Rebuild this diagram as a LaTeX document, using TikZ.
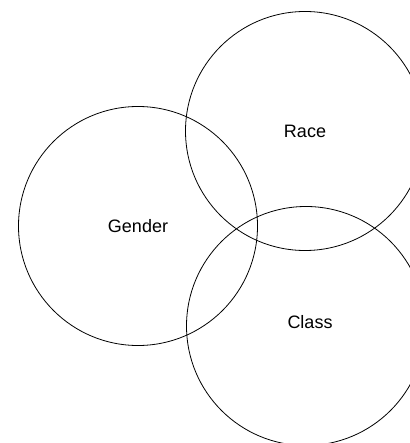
\documentclass[tikz,border=0pt]{standalone}
\usepackage{fontspec}
\setmainfont{Liberation Sans}
\usepackage{tikz}
\tikzset{
  setc/.style={circle, draw=black, line width=0.8pt, inner sep=0pt,
               minimum size=239pt, font=\fontsize{18}{20}\selectfont},
}

\begin{document}
\begin{tikzpicture}[x=1pt, y=-1pt]
  \useasboundingbox (0,0) rectangle (409,443);
  \node[setc] (race) at (305,131) {Race};
  \node[setc] (gender) at (138,226) {Gender};
  \node[setc] (class) at (306,326) {};
  \node[font=\fontsize{18}{20}\selectfont] (classlbl) at (310,322) {Class};
\end{tikzpicture}
\end{document}
